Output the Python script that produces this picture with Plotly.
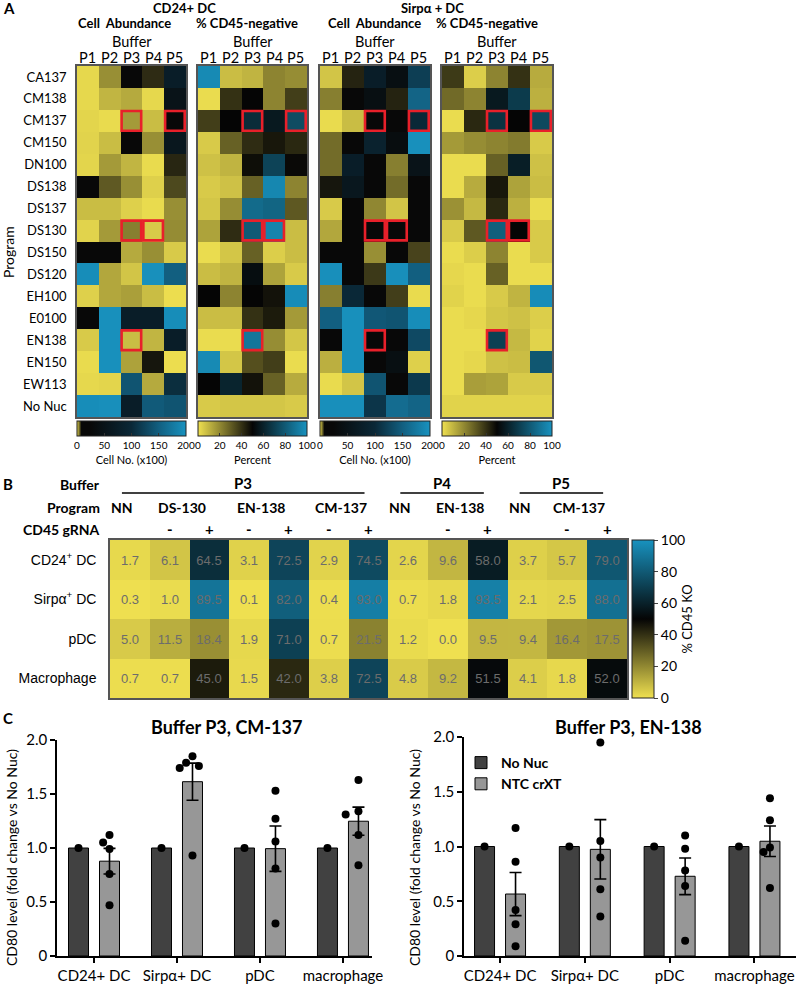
import numpy as np
import plotly.graph_objects as go

W, H = 796, 987
def px(x): return x / W
def py(y): return 1 - y / H

# ---------------- Panel A data ----------------
buffers = ["P1", "P2", "P3", "P4", "P5"]
programs = ["CA137", "CM138", "CM137", "CM150", "DN100", "DS138", "DS137", "DS130",
            "DS150", "DS120", "EH100", "E0100", "EN138", "EN150", "EW113", "No Nuc"]

cd24_cell_abundance = [
    [0.3, 3.0, 15, 6.7, 75],
    [0.3, 1.6, 2.0, 0.3, 50],
    [0.4, 0.2, 2.6, 1.3, 15],
    [0.5, 1.3, 15, 3.0, 60],
    [0.4, 2.6, 1.6, 0.2, 6.9],
    [15, 5.0, 3.0, 0.6, 5.6],
    [1.3, 1.3, 0.6, 0.2, 3.0],
    [0.5, 2.6, 3.6, 0.8, 3.1],
    [15, 15, 2.0, 3.0, 0.8],
    [195, 2.1, 1.0, 198, 150],
    [0.6, 2.1, 2.4, 1.3, 0.1],
    [15, 198, 75, 75, 195],
    [0.8, 198, 1.3, 1.6, 75],
    [0.2, 198, 2.3, 7.5, 0.1],
    [0.3, 0.4, 140, 2.0, 105],
    [195, 197, 75, 145, 140],
]
cd24_pct_cd45neg = [
    [97, 8, 10, 21, 19],
    [1, 40, 50, 21, 37],
    [37, 50, 64, 57, 75],
    [5, 29, 41, 46, 42],
    [7, 10, 48, 72, 49],
    [5, 7, 29, 96, 21],
    [6, 19, 86, 84, 31],
    [14, 41, 80, 95, 8],
    [1, 6, 29, 4, 8],
    [8, 10, 53, 14, 5],
    [50, 21, 50, 47, 98],
    [8, 8, 40, 45, 16],
    [1, 1, 90, 19, 6],
    [97, 6, 33, 37, 1],
    [50, 61, 47, 29, 12],
    [5, 6, 6, 6, 5],
]
sirpa_cell_abundance = [
    [1.0, 7.0, 75, 40, 120],
    [3.6, 15, 40, 7.0, 155],
    [0.2, 1.3, 15, 15, 100],
    [4.3, 15, 85, 35, 198],
    [4.3, 75, 15, 3.6, 50],
    [7.5, 60, 15, 4.3, 15],
    [0.8, 15, 3.3, 1.0, 15],
    [2.1, 15, 15, 15, 18],
    [15, 15, 3.0, 15, 5.8],
    [197, 15, 6.2, 197, 150],
    [3.6, 100, 15, 6.0, 0.2],
    [150, 198, 143, 140, 195],
    [15, 198, 15, 15, 130],
    [1.8, 198, 15, 40, 0.6],
    [0.2, 1.0, 140, 15, 115],
    [197, 197, 112, 163, 155],
]
sirpa_pct_cd45neg = [
    [38, 4, 21, 40, 12],
    [27, 21, 57, 69, 11],
    [1, 42, 66, 50, 74],
    [16, 19, 21, 23, 5],
    [1, 1, 29, 59, 7],
    [1, 12, 46, 14, 8],
    [18, 9, 42, 11, 1],
    [5, 31, 82, 50, 5],
    [1, 4, 21, 1, 5],
    [2, 1, 29, 1, 1],
    [3, 1, 5, 10, 98],
    [1, 2, 6, 7, 4],
    [1, 1, 71, 9, 3],
    [1, 2, 7, 8, 79],
    [1, 15, 14, 5, 5],
    [3, 3, 3, 3, 3],
]
highlighted = [("CM137", "P3"), ("CM137", "P5"), ("DS130", "P3"), ("DS130", "P4"), ("EN138", "P3")]
cell_ticks = [0, 50, 100, 150, 200]
pct_ticks = [0, 20, 40, 60, 80, 100]

# ---------------- Panel B data ----------------
b_buffer = ["P3"] * 7 + ["P4"] * 3 + ["P5"] * 3
b_program = ["NN", "DS-130", "DS-130", "EN-138", "EN-138", "CM-137", "CM-137",
             "NN", "EN-138", "EN-138", "NN", "CM-137", "CM-137"]
b_grna = ["", "-", "+", "-", "+", "-", "+", "", "-", "+", "", "-", "+"]
b_celltypes = ["CD24<sup>+</sup> DC", "Sirpα<sup>+</sup> DC", "pDC", "Macrophage"]
b_cd24 = [1.7, 6.1, 64.5, 3.1, 72.5, 2.9, 74.5, 2.6, 9.6, 58.0, 3.7, 5.7, 79.0]
b_sirpa = [0.3, 1.0, 89.5, 0.1, 82.0, 0.4, 93.0, 0.7, 1.8, 93.5, 2.1, 2.5, 88.0]
b_pdc = [5.0, 11.5, 18.4, 1.9, 71.0, 0.7, 21.5, 1.2, 0.0, 9.5, 9.4, 16.4, 17.5]
b_macrophage = [0.7, 0.7, 45.0, 1.5, 42.0, 3.8, 72.5, 4.8, 9.2, 51.5, 4.1, 1.8, 52.0]

# ---------------- Panel C data ----------------
c_celltypes = ["CD24+ DC", "Sirpα+ DC", "pDC", "macrophage"]
c_nonuc = [1.0, 1.0, 1.0, 1.0]
c_cm137_ntc = [
    [1.12, 1.05, 0.99, 0.76, 0.47],
    [1.85, 1.79, 1.76, 1.74, 0.93],
    [1.53, 1.27, 1.06, 0.81, 0.30],
    [1.63, 1.34, 1.31, 1.12, 0.84],
]
c_en138_ntc = [
    [1.17, 0.86, 0.42, 0.29, 0.09],
    [1.95, 1.05, 0.90, 0.61, 0.36],
    [1.10, 0.98, 0.78, 0.64, 0.14],
    [1.44, 1.24, 0.99, 0.95, 0.62],
]

# ---------------- styles ----------------
FONT = "Lato, 'Open Sans', sans-serif"
ARIAL = "'Liberation Sans', Arial, sans-serif"
YEL = "#EFE050"
BLU = "#1892BF"
pct_scale = [[0, YEL], [0.5, "#050505"], [1, BLU]]
cell_scale = [[0, YEL], [0.04, "#080808"], [0.12, "#080808"], [0.5, "#0A2837"],
              [0.75, "#125F80"], [1, BLU]]
DARK = "#414141"
LIGHT = "#979797"

fig = go.Figure()
layout = dict(width=W, height=H, margin=dict(l=0, r=0, t=0, b=0, autoexpand=False),
              autosize=False, paper_bgcolor="white", plot_bgcolor="white", barmode="overlay",
              font=dict(family=FONT, size=13, color="black"), hovermode=False)
annotations = []
shapes = []

def ann(text, x, y, size=13, xanchor="center", angle=0, family=FONT, color="black",
        xref="paper"):
    annotations.append(dict(text=text, x=px(x) if xref == "paper" else x, y=py(y),
                            xref=xref, yref="paper",
                            showarrow=False, xanchor=xanchor, yanchor="middle",
                            textangle=angle, font=dict(size=size, family=family, color=color)))

# ---------------- Panel A ----------------
heat_px = [(77, 186), (198, 307), (320, 430), (442, 552)]
A_TOP, A_BOT = 66, 417
panelsA = [
    (cd24_cell_abundance, cell_scale, 200, cell_ticks, "Cell No. (x100)"),
    (cd24_pct_cd45neg, pct_scale, 100, pct_ticks, "Percent"),
    (sirpa_cell_abundance, cell_scale, 200, cell_ticks, "Cell No. (x100)"),
    (sirpa_pct_cd45neg, pct_scale, 100, pct_ticks, "Percent"),
]
for k, ((z, cs, zmax, tv, cbt), (x0, x1)) in enumerate(zip(panelsA, heat_px), start=1):
    xa = "x" if k == 1 else f"x{k}"
    ya = "y" if k == 1 else f"y{k}"
    fig.add_trace(go.Heatmap(
        z=z, x=buffers, y=programs, colorscale=cs, zmin=0, zmax=zmax,
        xaxis=xa, yaxis=ya, hoverinfo="skip",
        colorbar=dict(orientation="h", x=px((x0 + x1) / 2), xanchor="center",
                      y=py(421), yanchor="top", len=x1 - x0, lenmode="pixels",
                      thickness=15, xpad=0, ypad=0, outlinewidth=1, outlinecolor="#222",
                      tickvals=tv, ticks="inside", ticklen=3, tickcolor="#333",
                      tickfont=dict(size=10, family=FONT),
                      title=dict(text=cbt, side="bottom", font=dict(size=11, family=FONT)))))
    layout["xaxis" if k == 1 else f"xaxis{k}"] = dict(
        domain=[px(x0), px(x1)], anchor=ya, side="top", ticks="", showgrid=False,
        zeroline=False, showline=True, mirror=True, linecolor="#555", linewidth=1.5,
        showticklabels=False, automargin=False)
    layout["yaxis" if k == 1 else f"yaxis{k}"] = dict(
        domain=[py(A_BOT), py(A_TOP)], anchor=xa, autorange="reversed", ticks="",
        showgrid=False, zeroline=False, showline=True, mirror=True, linecolor="#555",
        linewidth=1.5, showticklabels=(k == 1), tickfont=dict(size=13), ticklabelstandoff=6,
        automargin=False)
    for prog, buf in highlighted:
        ci = buffers.index(buf)
        ri = programs.index(prog)
        shapes.append(dict(type="rect", xref=xa, yref=ya, x0=ci - 0.45, x1=ci + 0.45,
                           y0=ri - 0.45, y1=ri + 0.45,
                           line=dict(color="#E8202A", width=2.6)))
    for b in buffers:
        ann(b, buffers.index(b), 58, size=14.5, xref=xa)
    ann("Buffer", (x0 + x1) / 2, 42, size=14.5)

ann("<b>A</b>", 1, 8, size=15, xanchor="left")
ann("<b>CD24+ DC</b>", 184, 8)
ann("<b>Sirpα + DC</b>", 432, 8)
ann("<b>Cell  Abundance</b>", 124, 23)
ann("<b>% CD45-negative</b>", 247, 23)
ann("<b>Cell  Abundance</b>", 374, 23)
ann("<b>% CD45-negative</b>", 487, 23)
ann("Program", 9, 252, size=14, angle=-90)

# ---------------- Panel B ----------------
B_X0, B_X1, B_TOP, B_BOT = 110, 627, 540, 698
ncol = len(b_program)
b_vals = [b_cd24, b_sirpa, b_pdc, b_macrophage]
fig.add_trace(go.Heatmap(
    z=b_vals, x=list(range(ncol)), y=b_celltypes, colorscale=pct_scale, zmin=0, zmax=100,
    text=[[f"{v:.1f}" for v in row] for row in b_vals], texttemplate="%{text}",
    textfont=dict(color="#6C6C6C", size=13, family=ARIAL),
    xaxis="x5", yaxis="y5", hoverinfo="skip",
    colorbar=dict(x=px(632), xanchor="left", y=py(B_TOP), yanchor="top", len=B_BOT - B_TOP,
                  lenmode="pixels", thickness=22, xpad=0, ypad=0, outlinewidth=1,
                  outlinecolor="#222", tickvals=pct_ticks, ticks="outside", ticklen=4,
                  tickfont=dict(size=14, family=FONT),
                  title=dict(text="% CD45 KO", side="right", font=dict(size=13, family=FONT)))))
layout["xaxis5"] = dict(domain=[px(B_X0), px(B_X1)], anchor="y5", range=[-0.5, ncol - 0.5],
                        showticklabels=False, ticks="", showgrid=False, zeroline=False,
                        showline=True, mirror=True, linecolor="#555", linewidth=1.5,
                        automargin=False)
layout["yaxis5"] = dict(domain=[py(B_BOT), py(B_TOP)], anchor="x5", autorange="reversed",
                        ticks="", showgrid=False, zeroline=False, showline=True, mirror=True,
                        linecolor="#555", linewidth=1.5, tickfont=dict(size=14, family=ARIAL),
                        ticklabelstandoff=9, automargin=False)

colw = (B_X1 - B_X0) / ncol
def colx(i): return B_X0 + colw * (i + 0.5)

ann("<b>B</b>", 1, 484, size=15, xanchor="left")
ann("<b>Buffer</b>", 102, 484, size=14, xanchor="right")
ann("<b>Program</b>", 102, 507, size=14, xanchor="right")
ann("<b>CD45 gRNA</b>", 102, 529, size=14, xanchor="right")

def runs(keys):
    out = []
    start = 0
    for i in range(1, len(keys) + 1):
        if i == len(keys) or keys[i] != keys[start]:
            out.append((keys[start], start, i - 1))
            start = i
    return out

for (buf,), a, b in runs([(v,) for v in b_buffer]):
    lx0, lx1 = colx(a - 0.2), colx(b - 0.1)
    shapes.append(dict(type="line", xref="paper", yref="paper", x0=px(lx0), x1=px(lx1),
                       y0=py(493), y1=py(493), line=dict(color="black", width=1.6)))
    ann(f"<b>{buf}</b>", (lx0 + lx1) / 2, 483, size=15)
for (buf, prog), a, b in runs(list(zip(b_buffer, b_program))):
    ann(f"<b>{prog}</b>", colx((a + b) / 2 - 0.2), 507, size=14)
for i, g in enumerate(b_grna):
    if g:
        ann(f"<b>{g}</b>", colx(i), 529, size=15)

# ---------------- Panel C ----------------
BAR_W_PX = 20
PAIR_GAP_PX = 31
DOT = 8

def swarm(vals, xs_unit, ys_unit):
    placed, offs = [], []
    for v in vals:
        for k in [0, -1, 1, -2, 2]:
            ox = k * DOT * 0.8
            if all((ox - qx) ** 2 + ((v - qv) * ys_unit) ** 2 >= (DOT * 0.95) ** 2
                   for qx, qv in placed):
                break
        placed.append((ox, v))
        offs.append(ox / xs_unit)
    return offs

def bar_panel(n, ntc_pts, xdom, ydom, xrng, showlegend, title, title_x, ylab_x):
    xa, ya = f"x{n}", f"y{n}"
    xs_unit = (xdom[1] - xdom[0]) / (xrng[1] - xrng[0])
    ys_unit = (ydom[0] - ydom[1]) / 2.0
    off = PAIR_GAP_PX / 2 / xs_unit
    bw = BAR_W_PX / xs_unit
    idx = np.arange(len(c_celltypes))
    means = [float(np.mean(p)) for p in ntc_pts]
    sems = [float(np.std(p, ddof=1) / np.sqrt(len(p))) for p in ntc_pts]
    fig.add_trace(go.Bar(x=idx - off, y=c_nonuc, width=bw, name="<b>No Nuc</b>",
                         marker=dict(color=DARK, line=dict(color="black", width=1)),
                         xaxis=xa, yaxis=ya, showlegend=showlegend))
    fig.add_trace(go.Bar(x=idx + off, y=means, width=bw, name="<b>NTC crXT</b>",
                         marker=dict(color=LIGHT, line=dict(color="black", width=1)),
                         error_y=dict(type="data", array=sems, visible=True, color="black",
                                      thickness=1.6, width=6),
                         xaxis=xa, yaxis=ya, showlegend=showlegend))
    xs, ys = [], []
    for i, v in enumerate(c_nonuc):
        xs.append(i - off)
        ys.append(v)
    for i, pts in enumerate(ntc_pts):
        for o, v in zip(swarm(pts, xs_unit, ys_unit), pts):
            xs.append(i + off + o)
            ys.append(v)
    fig.add_trace(go.Scatter(x=xs, y=ys, mode="markers", marker=dict(color="black", size=DOT),
                             xaxis=xa, yaxis=ya, showlegend=False, cliponaxis=False))
    layout[f"xaxis{n}"] = dict(domain=[px(xdom[0]), px(xdom[1])], anchor=ya, range=xrng,
                               tickvals=list(idx), ticktext=c_celltypes, ticks="outside",
                               ticklen=5, tickwidth=1.5, tickcolor="black", showline=True,
                               linewidth=1.5, linecolor="black", showgrid=False,
                               zeroline=False, tickfont=dict(size=15), automargin=False)
    layout[f"yaxis{n}"] = dict(domain=[py(ydom[0]), py(ydom[1])], anchor=xa, range=[0, 2],
                               tickvals=[0, 0.5, 1, 1.5, 2],
                               ticktext=["0", "0.5", "1.0", "1.5", "2.0"], ticks="outside",
                               ticklen=5, tickwidth=1.5, tickcolor="black", showline=True,
                               linewidth=1.5, linecolor="black", showgrid=False,
                               zeroline=False, tickfont=dict(size=15), automargin=False)
    ann(f"<b>{title}</b>", title_x, 727, size=18)
    ann("CD80 level (fold change vs No Nuc)", ylab_x, 858, size=14, angle=-90)

ann("<b>C</b>", 1, 718, size=15, xanchor="left")
bar_panel(6, c_cm137_ntc, (57, 372), (956, 740), [-0.446, 3.35], False,
          "Buffer P3, CM-137", 226, 11)
bar_panel(7, c_en138_ntc, (464, 796), (956, 737), [-0.425, 3.49], True,
          "Buffer P3, EN-138", 628, 414)

layout["legend"] = dict(x=px(461), y=py(747), xanchor="left", yanchor="top",
                        bgcolor="rgba(0,0,0,0)", font=dict(size=14), traceorder="normal")
layout["annotations"] = annotations
layout["shapes"] = shapes
fig.update_layout(**layout)

fig.write_html("out.html", config={"displayModeBar": False},
               post_script="document.body.style.margin='0';")
